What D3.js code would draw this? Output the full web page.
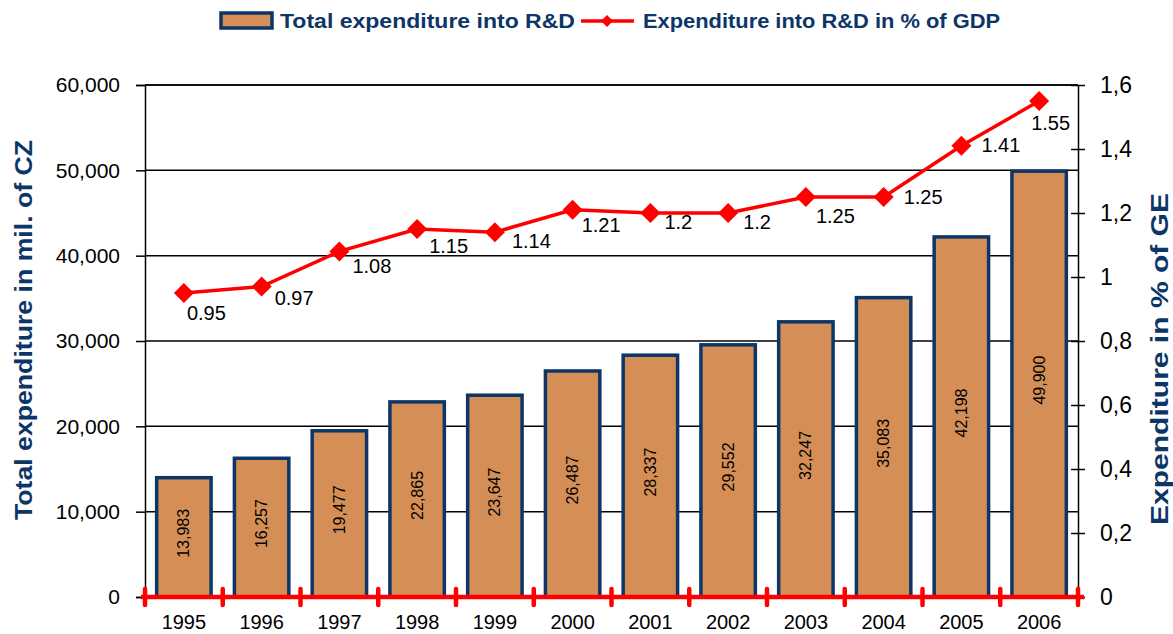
<!DOCTYPE html>
<html>
<head>
<meta charset="utf-8">
<script src="https://cdn.jsdelivr.net/npm/d3@7"></script>
<style>
  body { margin: 0; background: #fff; }
  text { font-family: "Liberation Sans", Arial, sans-serif; }
</style>
</head>
<body>
<div class="chart"></div>
<script>
// data
var years = ["1995","1996","1997","1998","1999","2000","2001","2002","2003","2004","2005","2006"];
var expenditure = [13983, 16257, 19477, 22865, 23647, 26487, 28337, 29552, 32247, 35083, 42198, 49900];
var pctGdp = [0.95, 0.97, 1.08, 1.15, 1.14, 1.21, 1.2, 1.2, 1.25, 1.25, 1.41, 1.55];
var leftTicks = [0, 10000, 20000, 30000, 40000, 50000, 60000];
var rightTicks = [0, 0.2, 0.4, 0.6, 0.8, 1, 1.2, 1.4, 1.6];

// where each % label sits relative to its marker (layout only)
var labelNudge = [[3,27],[13,18],[13,22],[12,24],[17,16],[9,22],[14,16],[15,16],[10,26],[20,7],[20,6],[-8,29]];

var width = 1173, height = 634,
    plot = {left: 145, right: 1078, top: 85, bottom: 597},
    navy = "#0c3667", barFill = "#d58f56", red = "#ff0000";

var svg = d3.select("div.chart").append("svg")
    .attr("width", width)
    .attr("height", height);

var x = d3.scaleBand()
    .domain(years)
    .range([plot.left, plot.right])
    .paddingInner(0.3)
    .paddingOuter(0.15);

var yLeft = d3.scaleLinear().domain([0, 60000]).range([plot.bottom, plot.top]);
var yRight = d3.scaleLinear().domain([0, 1.6]).range([plot.bottom, plot.top]);

var fmtThousands = d3.format(",");
var fmtComma = function(d) { return String(d).replace(".", ","); };

// gridlines
svg.append("g")
  .selectAll("line")
    .data(leftTicks.slice(1))
  .enter().append("line")
    .attr("x1", plot.left).attr("x2", plot.right)
    .attr("y1", function(d) { return yLeft(d); })
    .attr("y2", function(d) { return yLeft(d); })
    .style("stroke", "#000")
    .style("stroke-width", 1.5);

// left axis
var leftAxis = svg.append("g")
    .attr("transform", "translate(" + plot.left + ",0)")
    .call(d3.axisLeft(yLeft).tickValues(leftTicks).tickFormat(fmtThousands).tickSize(9).tickPadding(16));
leftAxis.select(".domain").style("stroke", "#000").style("stroke-width", 1.5);
leftAxis.selectAll(".tick line").style("stroke", "#000").style("stroke-width", 1.5);
leftAxis.selectAll("text")
    .style("font-size", "21px")
    .style("fill", "#000")
    .style("font-family", "Liberation Sans, Arial, sans-serif");

// right axis, ticks cross the line
var rightAxis = svg.append("g")
    .attr("transform", "translate(" + plot.right + ",0)")
    .call(d3.axisRight(yRight).tickValues(rightTicks).tickFormat(fmtComma).tickSizeInner(7).tickSizeOuter(0).tickPadding(15));
rightAxis.select(".domain").style("stroke", "#000").style("stroke-width", 1.5);
rightAxis.selectAll(".tick line")
    .attr("x1", -7)
    .style("stroke", "#000").style("stroke-width", 1.5);
rightAxis.selectAll("text")
    .style("font-size", "23px")
    .style("fill", "#000")
    .style("font-family", "Liberation Sans, Arial, sans-serif");

// bars
svg.append("g")
  .selectAll("rect")
    .data(expenditure)
  .enter().append("rect")
    .attr("x", function(d, i) { return x(years[i]); })
    .attr("y", function(d) { return yLeft(d); })
    .attr("width", x.bandwidth())
    .attr("height", function(d) { return yLeft(0) - yLeft(d); })
    .style("fill", barFill)
    .style("stroke", navy)
    .style("stroke-width", 3.5);

// bar value labels, rotated
svg.append("g")
  .selectAll("text")
    .data(expenditure)
  .enter().append("text")
    .attr("transform", function(d, i) {
      var cx = x(years[i]) + x.bandwidth() / 2,
          cy = (yLeft(d) + yLeft(0)) / 2 - 4;
      return "translate(" + cx + "," + cy + ") rotate(-90)";
    })
    .attr("text-anchor", "middle")
    .attr("dy", "0.35em")
    .style("font-size", "16px")
    .style("fill", "#000")
    .text(function(d) { return fmtThousands(d); });

// red category axis
var xAxisG = svg.append("g");
xAxisG.append("line")
    .attr("x1", plot.left - 4).attr("x2", plot.right + 6)
    .attr("y1", plot.bottom).attr("y2", plot.bottom)
    .style("stroke", red)
    .style("stroke-width", 4.5);

// tick marks sit between categories
var bounds = d3.range(years.length + 1).map(function(i) { return plot.left + i * (plot.right - plot.left) / years.length; });
xAxisG.selectAll("line.tick")
    .data(bounds)
  .enter().append("line")
    .attr("class", "tick")
    .attr("x1", function(d) { return d; }).attr("x2", function(d) { return d; })
    .attr("y1", plot.bottom - 8).attr("y2", plot.bottom + 8)
    .style("stroke", red)
    .style("stroke-width", 4.5)
    .style("stroke-linecap", "round");
xAxisG.selectAll("text")
    .data(years)
  .enter().append("text")
    .attr("x", function(d) { return x(d) + x.bandwidth() / 2; })
    .attr("y", 629)
    .attr("text-anchor", "middle")
    .style("font-size", "20px")
    .style("fill", "#000")
    .text(function(d) { return d; });

// percentage line
var line = d3.line()
    .x(function(d, i) { return x(years[i]) + x.bandwidth() / 2; })
    .y(function(d) { return yRight(d); });

svg.append("path")
    .datum(pctGdp)
    .attr("d", line)
    .style("fill", "none")
    .style("stroke", red)
    .style("stroke-width", 3.5);

var diamond = function(r) { return "M0," + (-r) + "L" + r + ",0L0," + r + "L" + (-r) + ",0Z"; };

svg.append("g")
  .selectAll("path")
    .data(pctGdp)
  .enter().append("path")
    .attr("transform", function(d, i) {
      return "translate(" + (x(years[i]) + x.bandwidth() / 2) + "," + yRight(d) + ")";
    })
    .attr("d", diamond(10))
    .style("fill", red);

svg.append("g")
  .selectAll("text")
    .data(pctGdp)
  .enter().append("text")
    .attr("x", function(d, i) { return x(years[i]) + x.bandwidth() / 2 + labelNudge[i][0]; })
    .attr("y", function(d, i) { return yRight(d) + labelNudge[i][1]; })
    .style("font-size", "20px")
    .style("fill", "#000")
    .text(function(d) { return d; });

// axis titles
svg.append("text")
    .attr("transform", "translate(32,330) rotate(-90)")
    .attr("text-anchor", "middle")
    .attr("textLength", 380)
    .attr("lengthAdjust", "spacingAndGlyphs")
    .style("font-size", "24px")
    .style("font-weight", "bold")
    .style("fill", navy)
    .text("Total expenditure in mil. of CZ");

svg.append("text")
    .attr("transform", "translate(1168,525) rotate(-90)")
    .attr("text-anchor", "start")
    .attr("textLength", 332)
    .attr("lengthAdjust", "spacingAndGlyphs")
    .style("font-size", "23px")
    .style("font-weight", "bold")
    .style("fill", navy)
    .text("Expenditure in % of GE");

// legend
var legend = svg.append("g");
legend.append("rect")
    .attr("x", 221).attr("y", 13)
    .attr("width", 51).attr("height", 15)
    .style("fill", barFill)
    .style("stroke", navy)
    .style("stroke-width", 3.5);
legend.append("text")
    .attr("x", 280).attr("y", 28)
    .attr("textLength", 295)
    .attr("lengthAdjust", "spacingAndGlyphs")
    .style("font-size", "21px")
    .style("font-weight", "bold")
    .style("fill", navy)
    .text("Total expenditure into R&D");
legend.append("line")
    .attr("x1", 581).attr("x2", 634)
    .attr("y1", 21).attr("y2", 21)
    .style("stroke", red)
    .style("stroke-width", 3.5);
legend.append("path")
    .attr("transform", "translate(607,21)")
    .attr("d", diamond(6))
    .style("fill", red);
legend.append("text")
    .attr("x", 643).attr("y", 28)
    .attr("textLength", 357)
    .attr("lengthAdjust", "spacingAndGlyphs")
    .style("font-size", "21px")
    .style("font-weight", "bold")
    .style("fill", navy)
    .text("Expenditure into R&D in % of GDP");

// top border of plot
svg.append("line")
    .attr("x1", plot.left).attr("x2", plot.right)
    .attr("y1", plot.top).attr("y2", plot.top)
    .style("stroke", "#000")
    .style("stroke-width", 1.5);
</script>
</body>
</html>
